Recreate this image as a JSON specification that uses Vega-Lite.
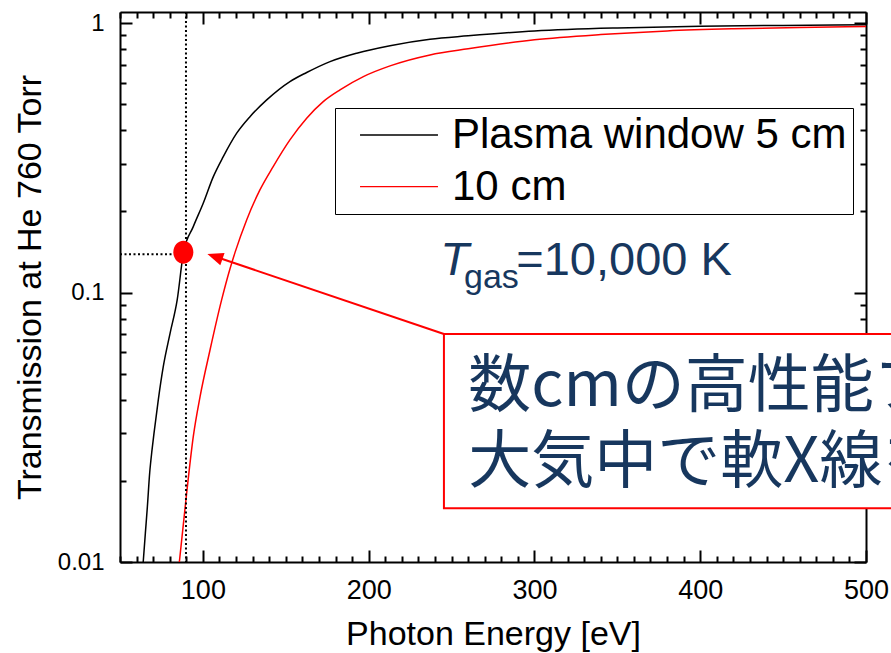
{
  "$schema": "https://vega.github.io/schema/vega-lite/v6.json",
  "width": 746,
  "height": 550,
  "autosize": {"type": "none"},
  "padding": {"left": 120, "top": 12, "right": 25, "bottom": 91},
  "background": "white",
  "config": {
    "view": {"stroke": null},
    "font": "Liberation Sans",
    "axis": {
      "grid": false,
      "labelFont": "Liberation Sans",
      "titleFont": "Liberation Sans",
      "titleFontWeight": "normal",
      "labelColor": "black",
      "titleColor": "black",
      "domainColor": "black",
      "tickColor": "black",
      "domainWidth": 2,
      "tickWidth": 2,
      "labelOverlap": false,
      "labelFlush": false
    }
  },
  "datasets": {
    "curves": [
      {"E": 64.0, "T": 0.0100, "series": "Plasma window 5 cm"},
      {"E": 65.3, "T": 0.0128, "series": "Plasma window 5 cm"},
      {"E": 66.5, "T": 0.0160, "series": "Plasma window 5 cm"},
      {"E": 67.9, "T": 0.0214, "series": "Plasma window 5 cm"},
      {"E": 69.3, "T": 0.0260, "series": "Plasma window 5 cm"},
      {"E": 70.5, "T": 0.0300, "series": "Plasma window 5 cm"},
      {"E": 73.1, "T": 0.0400, "series": "Plasma window 5 cm"},
      {"E": 76.1, "T": 0.0531, "series": "Plasma window 5 cm"},
      {"E": 80.2, "T": 0.0706, "series": "Plasma window 5 cm"},
      {"E": 84.5, "T": 0.0939, "series": "Plasma window 5 cm"},
      {"E": 88.3, "T": 0.1410, "series": "Plasma window 5 cm"},
      {"E": 94.2, "T": 0.1757, "series": "Plasma window 5 cm"},
      {"E": 100.2, "T": 0.2146, "series": "Plasma window 5 cm"},
      {"E": 106.3, "T": 0.2694, "series": "Plasma window 5 cm"},
      {"E": 112.3, "T": 0.3196, "series": "Plasma window 5 cm"},
      {"E": 120.4, "T": 0.3905, "series": "Plasma window 5 cm"},
      {"E": 128.4, "T": 0.4498, "series": "Plasma window 5 cm"},
      {"E": 138.5, "T": 0.5190, "series": "Plasma window 5 cm"},
      {"E": 152.5, "T": 0.6069, "series": "Plasma window 5 cm"},
      {"E": 162.6, "T": 0.6560, "series": "Plasma window 5 cm"},
      {"E": 176.7, "T": 0.7201, "series": "Plasma window 5 cm"},
      {"E": 192.8, "T": 0.7737, "series": "Plasma window 5 cm"},
      {"E": 212.9, "T": 0.8250, "series": "Plasma window 5 cm"},
      {"E": 237.0, "T": 0.8720, "series": "Plasma window 5 cm"},
      {"E": 260.0, "T": 0.8970, "series": "Plasma window 5 cm"},
      {"E": 300.0, "T": 0.9350, "series": "Plasma window 5 cm"},
      {"E": 350.0, "T": 0.9600, "series": "Plasma window 5 cm"},
      {"E": 400.0, "T": 0.9730, "series": "Plasma window 5 cm"},
      {"E": 450.0, "T": 0.9810, "series": "Plasma window 5 cm"},
      {"E": 500.0, "T": 0.9856, "series": "Plasma window 5 cm"},
      {"E": 85.8, "T": 0.0100, "series": "10 cm"},
      {"E": 90.2, "T": 0.0180, "series": "10 cm"},
      {"E": 94.2, "T": 0.0292, "series": "10 cm"},
      {"E": 98.3, "T": 0.0411, "series": "10 cm"},
      {"E": 104.3, "T": 0.0612, "series": "10 cm"},
      {"E": 111.3, "T": 0.0939, "series": "10 cm"},
      {"E": 116.4, "T": 0.1228, "series": "10 cm"},
      {"E": 119.4, "T": 0.1410, "series": "10 cm"},
      {"E": 126.4, "T": 0.1861, "series": "10 cm"},
      {"E": 134.4, "T": 0.2405, "series": "10 cm"},
      {"E": 142.4, "T": 0.2935, "series": "10 cm"},
      {"E": 152.5, "T": 0.3687, "series": "10 cm"},
      {"E": 162.6, "T": 0.4439, "series": "10 cm"},
      {"E": 172.6, "T": 0.5116, "series": "10 cm"},
      {"E": 182.7, "T": 0.5655, "series": "10 cm"},
      {"E": 196.8, "T": 0.6334, "series": "10 cm"},
      {"E": 212.9, "T": 0.6941, "series": "10 cm"},
      {"E": 237.0, "T": 0.7620, "series": "10 cm"},
      {"E": 260.0, "T": 0.8030, "series": "10 cm"},
      {"E": 300.0, "T": 0.8670, "series": "10 cm"},
      {"E": 340.0, "T": 0.9070, "series": "10 cm"},
      {"E": 380.0, "T": 0.9360, "series": "10 cm"},
      {"E": 420.0, "T": 0.9530, "series": "10 cm"},
      {"E": 460.0, "T": 0.9640, "series": "10 cm"},
      {"E": 500.0, "T": 0.9710, "series": "10 cm"}
    ]
  },
  "layer": [
    {
      "data": {"name": "curves"},
      "mark": {"type": "line", "strokeWidth": 1.5, "interpolate": "monotone"},
      "encoding": {
        "x": {
          "field": "E", "type": "quantitative",
          "scale": {"domain": [50, 500], "nice": false, "zero": false},
          "axis": {
            "orient": "bottom",
            "values": [50,60,70,80,90,100,110,120,130,140,150,160,170,180,190,200,210,220,230,240,250,260,270,280,290,300,310,320,330,340,350,360,370,380,390,400,410,420,430,440,450,460,470,480,490,500],
            "labelExpr": "datum.value % 100 === 0 ? datum.label : ''",
            "tickSize": {"condition": {"test": "datum.value % 100 === 0", "value": -12}, "value": -6},
            "labelFontSize": 27,
            "labelPadding": 27,
            "title": "Photon Energy [eV]",
            "titleFontSize": 34,
            "titlePadding": 8
          }
        },
        "y": {
          "field": "T", "type": "quantitative",
          "scale": {"type": "log", "domain": [0.01, 1.1], "nice": false},
          "axis": {
            "orient": "left",
            "values": [0.01,0.02,0.03,0.04,0.05,0.06,0.07,0.08,0.09,0.1,0.2,0.3,0.4,0.5,0.6,0.7,0.8,0.9,1],
            "labelExpr": "datum.value == 1 ? '1' : datum.value == 0.1 ? '0.1' : datum.value == 0.01 ? '0.01' : ''",
            "tickSize": {"condition": {"test": "datum.value == 0.01 || datum.value == 0.1 || datum.value == 1", "value": -12}, "value": -6},
            "labelFontSize": 24,
            "labelPadding": 28,
            "title": "Transmission at He 760 Torr",
            "titleFontSize": 34,
            "titlePadding": 10
          }
        },
        "color": {
          "field": "series", "type": "nominal",
          "scale": {"domain": ["Plasma window 5 cm", "10 cm"], "range": ["#000000", "#ff0000"]},
          "legend": {
            "orient": "none",
            "legendX": 215,
            "legendY": 96,
            "title": null,
            "symbolType": "M-5,0L5,0",
            "symbolSize": 243,
            "symbolStrokeWidth": 1.3,
            "symbolOffset": 37,
            "labelOffset": 32,
            "labelFont": "Liberation Sans",
            "labelFontSize": 42,
            "labelColor": "black",
            "labelLimit": 0,
            "padding": 6,
            "rowPadding": 9.7,
            "strokeColor": "black",
            "fillColor": "white"
          }
        }
      }
    },
    {
      "data": {"values": [{"E0": 50, "E1": 88.2, "T": 0.1388}]},
      "mark": {"type": "rule", "color": "black", "strokeWidth": 2, "strokeDash": [2, 2.5]},
      "encoding": {
        "x": {
          "field": "E0", "type": "quantitative",
          "axis": {
            "orient": "top",
            "values": [50,60,70,80,90,100,110,120,130,140,150,160,170,180,190,200,210,220,230,240,250,260,270,280,290,300,310,320,330,340,350,360,370,380,390,400,410,420,430,440,450,460,470,480,490,500],
            "labels": false,
            "title": null,
            "tickSize": {"condition": {"test": "datum.value % 100 === 0", "value": -12}, "value": -6}
          }
        },
        "x2": {"field": "E1"},
        "y": {
          "field": "T", "type": "quantitative",
          "axis": {
            "orient": "right",
            "values": [0.01,0.02,0.03,0.04,0.05,0.06,0.07,0.08,0.09,0.1,0.2,0.3,0.4,0.5,0.6,0.7,0.8,0.9,1],
            "labels": false,
            "title": null,
            "tickSize": {"condition": {"test": "datum.value == 0.01 || datum.value == 0.1 || datum.value == 1", "value": -12}, "value": -6}
          }
        }
      }
    },
    {
      "data": {"values": [{"E": 89.8}]},
      "mark": {"type": "rule", "color": "black", "strokeWidth": 2, "strokeDash": [2, 2.5]},
      "encoding": {
        "x": {"field": "E", "type": "quantitative", "axis": null}
      }
    },
    {
      "data": {"values": [{"E": 88.2, "T": 0.1412}]},
      "mark": {"type": "point", "shape": "M-0.87,0A0.87,1,0,1,0,0.87,0A0.87,1,0,1,0,-0.87,0Z", "size": 529, "filled": true, "color": "#ff0000", "opacity": 1},
      "encoding": {
        "x": {"field": "E", "type": "quantitative", "axis": null},
        "y": {"field": "T", "type": "quantitative", "axis": null}
      }
    },
    {
      "data": {"values": [{"E0": 245.4, "E1": 520, "T0": 0.0702, "T1": 0.01583}]},
      "mark": {"type": "rect", "fill": "white", "stroke": "#ff0000", "strokeWidth": 2},
      "encoding": {
        "x": {"field": "E0", "type": "quantitative", "axis": null},
        "x2": {"field": "E1"},
        "y": {"field": "T0", "type": "quantitative", "axis": null},
        "y2": {"field": "T1"}
      }
    },
    {
      "data": {"values": [{"E0": 245.4, "T0": 0.0702, "E1": 109.5, "T1": 0.1347}]},
      "mark": {"type": "rule", "color": "#ff0000", "strokeWidth": 2},
      "encoding": {
        "x": {"field": "E0", "type": "quantitative", "axis": null},
        "x2": {"field": "E1"},
        "y": {"field": "T0", "type": "quantitative", "axis": null},
        "y2": {"field": "T1"}
      }
    },
    {
      "data": {"values": [{"E": 102.7, "T": 0.1391}]},
      "mark": {"type": "point", "shape": "M0,0L0.45,1.1L-0.45,1.1Z", "size": 841, "angle": 289, "filled": true, "color": "#ff0000", "opacity": 1},
      "encoding": {
        "x": {"field": "E", "type": "quantitative", "axis": null},
        "y": {"field": "T", "type": "quantitative", "axis": null}
      }
    },
    {
      "data": {"values": [
        {"E": 260.1, "T": 0.03807, "text": "数cmの高性能プラズマ窓で"},
        {"E": 260.1, "T": 0.01976, "text": "大気中で軟X線を取り出せる"}
      ]},
      "mark": {"type": "text", "align": "left", "baseline": "alphabetic", "font": "Noto Sans CJK JP", "fontSize": 63, "color": "#17375E"},
      "encoding": {
        "x": {"field": "E", "type": "quantitative", "axis": null},
        "y": {"field": "T", "type": "quantitative", "axis": null},
        "text": {"field": "text"}
      }
    },
    {
      "data": {"values": [{"E": 243.2, "T": 0.1163, "text": "T"}]},
      "mark": {"type": "text", "align": "left", "baseline": "alphabetic", "font": "Liberation Sans", "fontSize": 47, "fontStyle": "italic", "color": "#17375E"},
      "encoding": {
        "x": {"field": "E", "type": "quantitative", "axis": null},
        "y": {"field": "T", "type": "quantitative", "axis": null},
        "text": {"field": "text"}
      }
    },
    {
      "data": {"values": [{"E": 257.5, "T": 0.1038, "text": "gas"}]},
      "mark": {"type": "text", "align": "left", "baseline": "alphabetic", "font": "Liberation Sans", "fontSize": 34, "color": "#17375E"},
      "encoding": {
        "x": {"field": "E", "type": "quantitative", "axis": null},
        "y": {"field": "T", "type": "quantitative", "axis": null},
        "text": {"field": "text"}
      }
    },
    {
      "data": {"values": [{"E": 289.0, "T": 0.1163, "text": "=10,000 K"}]},
      "mark": {"type": "text", "align": "left", "baseline": "alphabetic", "font": "Liberation Sans", "fontSize": 47, "color": "#17375E"},
      "encoding": {
        "x": {"field": "E", "type": "quantitative", "axis": null},
        "y": {"field": "T", "type": "quantitative", "axis": null},
        "text": {"field": "text"}
      }
    }
  ],
  "resolve": {"axis": {"x": "independent", "y": "independent"}}
}
